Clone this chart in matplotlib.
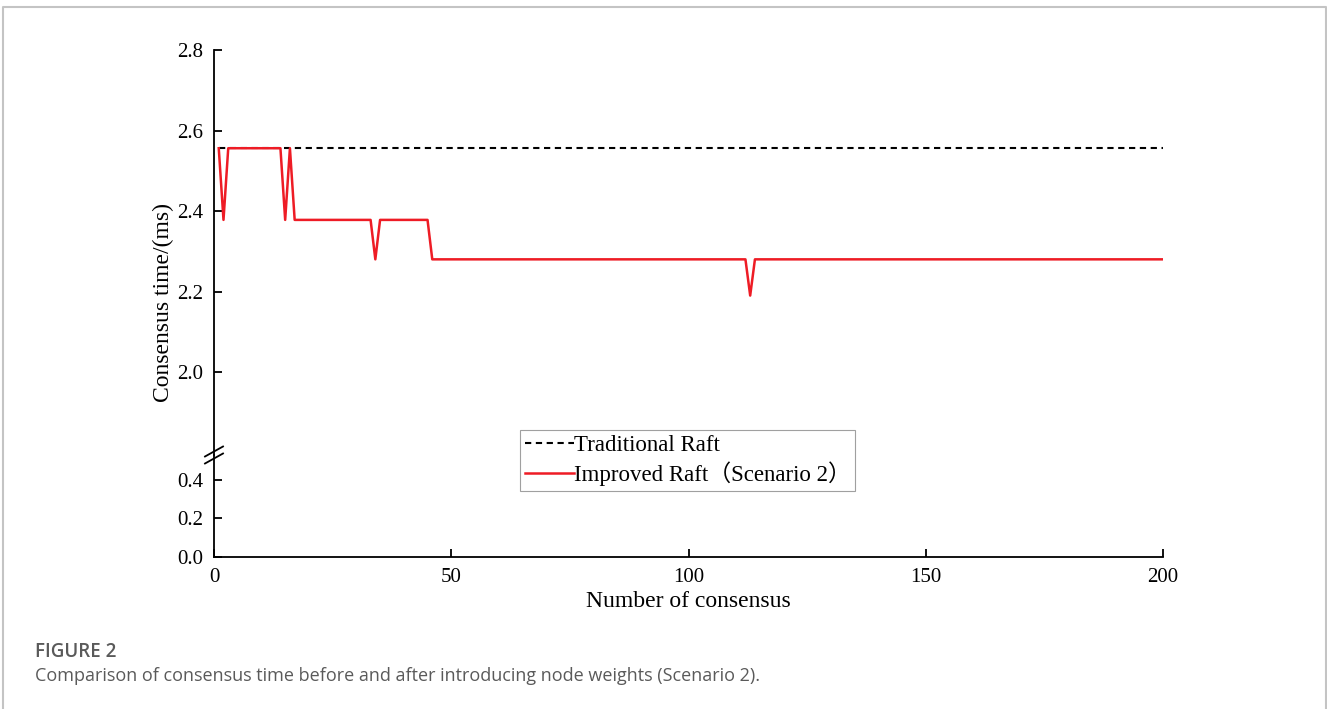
import numpy as np
import matplotlib
matplotlib.use('Agg')
import matplotlib.pyplot as plt
from matplotlib.lines import Line2D

plt.rcParams['font.family'] = ['Liberation Serif', 'Noto Sans CJK SC']

# data
trad_x = [1, 200]
trad_y = [2.556, 2.556]
imp_x = [1, 2, 3, 14, 15, 16, 17, 33, 34, 35, 45, 46, 112, 113, 114, 200]
imp_y = [2.556, 2.378, 2.556, 2.556, 2.378, 2.556, 2.378, 2.378, 2.28, 2.378, 2.378, 2.28, 2.28, 2.19, 2.28, 2.28]
xticks = [0, 50, 100, 150, 200]
top_ticks = [2.0, 2.2, 2.4, 2.6, 2.8]
bot_ticks = [0.0, 0.2, 0.4]

W, H = 1327, 709
fig = plt.figure(figsize=(W / 100, H / 100), dpi=100)

left = 214 / W
width = (1163 - 214) / W
ax_top = fig.add_axes([left, (H - 455) / H, width, (455 - 50) / H])
ax_bot = fig.add_axes([left, (H - 557) / H, width, (557 - 455) / H])

for ax in (ax_top, ax_bot):
    ax.plot(trad_x, trad_y, color='black', lw=1.5, linestyle=(0, (3, 2.2)), label='Traditional Raft')
    ax.plot(imp_x, imp_y, color='#ee1c25', lw=1.8, label='Improved Raft（Scenario 2）')
    ax.set_xlim(0, 200)
    ax.spines['top'].set_visible(False)
    ax.spines['right'].set_visible(False)
    ax.spines['left'].set_linewidth(1.3)
    ax.spines['bottom'].set_linewidth(1.3)
    ax.tick_params(direction='in', length=6, width=1.3, labelsize=15, pad=8)
    ax.patch.set_alpha(0)

ax_top.set_ylim(1.794, 2.8)
ax_top.set_yticks(top_ticks)
ax_top.set_yticklabels(['%.1f' % v for v in top_ticks])
ax_top.spines['bottom'].set_visible(False)
ax_top.tick_params(axis='x', bottom=False, labelbottom=False)

ax_bot.set_ylim(0, 0.528)
ax_bot.set_yticks(bot_ticks)
ax_bot.set_yticklabels(['%.1f' % v for v in bot_ticks])
ax_bot.set_xticks(xticks)
ax_bot.tick_params(axis='x', pad=8)
ax_bot.set_xlabel('Number of consensus', fontsize=17, labelpad=3)

fig.text(163 / W, (H - 303) / H, 'Consensus time/(ms)', rotation=90, fontsize=17,
         ha='center', va='center')

# break marks on the y axis
for dy in (-3.5, 3.5):
    y0 = H - 455 + dy
    fig.add_artist(Line2D([205 / W, 223 / W], [(y0 - 5) / H, (y0 + 5) / H],
                          color='black', lw=1.3))

leg = ax_top.legend(loc='upper left', bbox_to_anchor=(520 / W, (H - 430) / H),
                    bbox_transform=fig.transFigure,
                    fontsize=16.5, frameon=True, fancybox=False, handlelength=2.15,
                    handletextpad=0.0, labelspacing=0.25, borderpad=0.2,
                    borderaxespad=0, edgecolor='#888888')
leg.get_frame().set_linewidth(0.8)

# card frame and caption
fig.add_artist(Line2D([3 / W, 3 / W, 1326 / W, 1326 / W], [0, (H - 7) / H, (H - 7) / H, 0],
                      color='#c4c4c4', lw=1.5))
fig.text(35 / W, (H - 652) / H, 'FIGURE 2', fontsize=13.5, color='#5a5a5a',
         family='Open Sans', fontweight='semibold', va='center')
fig.text(35 / W, (H - 676) / H,
         'Comparison of consensus time before and after introducing node weights (Scenario 2).',
         fontsize=13, color='#5a5a5a', family='Open Sans', va='center')

fig.savefig('out.png', dpi=100)
